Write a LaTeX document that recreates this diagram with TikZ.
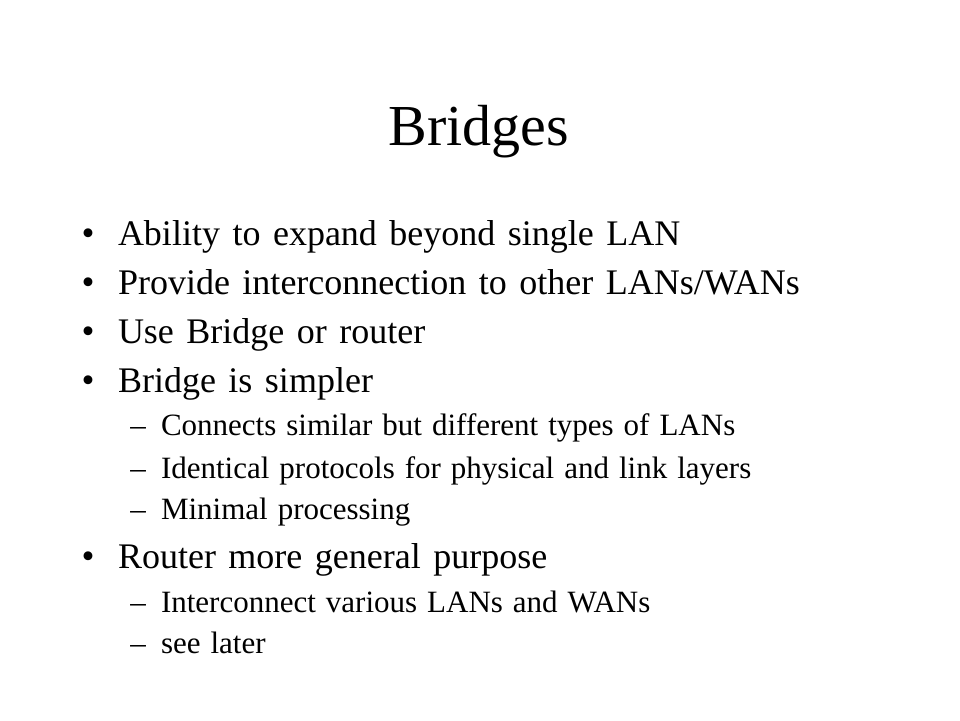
\documentclass[tikz,border=0pt]{standalone}
\usepackage{fontspec}
\setmainfont{Liberation Serif}
\newcommand\lvlonefont{\fontsize{36}{40}\selectfont\spaceskip 12.5pt plus 1pt\relax}
\newcommand\lvltwofont{\fontsize{31}{34}\selectfont\spaceskip 10pt plus 1pt\relax}
\begin{document}
\begin{tikzpicture}[x=1pt,y=-1pt,
  every node/.style={inner sep=0pt,outer sep=0pt},
  titletext/.style={anchor=base,font=\fontsize{58}{60}\selectfont},
  lvlone/.style={anchor=base west,font=\lvlonefont},
  lvltwo/.style={anchor=base west,font=\lvltwofont},
  bulletmark/.style={anchor=base,font=\fontsize{37}{40}\selectfont},
  dashmark/.style={anchor=base,font=\fontsize{31}{34}\selectfont}]
\useasboundingbox[fill=white] (0,0) rectangle (960,720);
\node[titletext] (title) at (479,145) {Bridges};
% level one
\node[bulletmark] (b1) at (88,245) {•};
\node[lvlone] (t1) at (118,245) {Ability to expand beyond single LAN};
\node[bulletmark] (b2) at (88,294) {•};
\node[lvlone] (t2) at (118,294) {Provide interconnection to other LANs/WANs};
\node[bulletmark] (b3) at (88,343) {•};
\node[lvlone] (t3) at (118,343) {Use Bridge or router};
\node[bulletmark] (b4) at (88,392) {•};
\node[lvlone] (t4) at (118,392) {Bridge is simpler};
\node[dashmark] (d1) at (138,435) {–};
\node[lvltwo] (s1) at (161,435) {Connects similar but different types of LANs};
\node[dashmark] (d2) at (138,478) {–};
\node[lvltwo] (s2) at (161,478) {Identical protocols for physical and link layers};
\node[dashmark] (d3) at (138,519) {–};
\node[lvltwo] (s3) at (161,519) {Minimal processing};
\node[bulletmark] (b5) at (88,568) {•};
\node[lvlone] (t5) at (118,568) {Router more general purpose};
\node[dashmark] (d4) at (138,612) {–};
\node[lvltwo] (s4) at (161,612) {Interconnect various LANs and WANs};
\node[dashmark] (d5) at (138,653) {–};
\node[lvltwo] (s5) at (161,653) {see later};
\end{tikzpicture}
\end{document}
